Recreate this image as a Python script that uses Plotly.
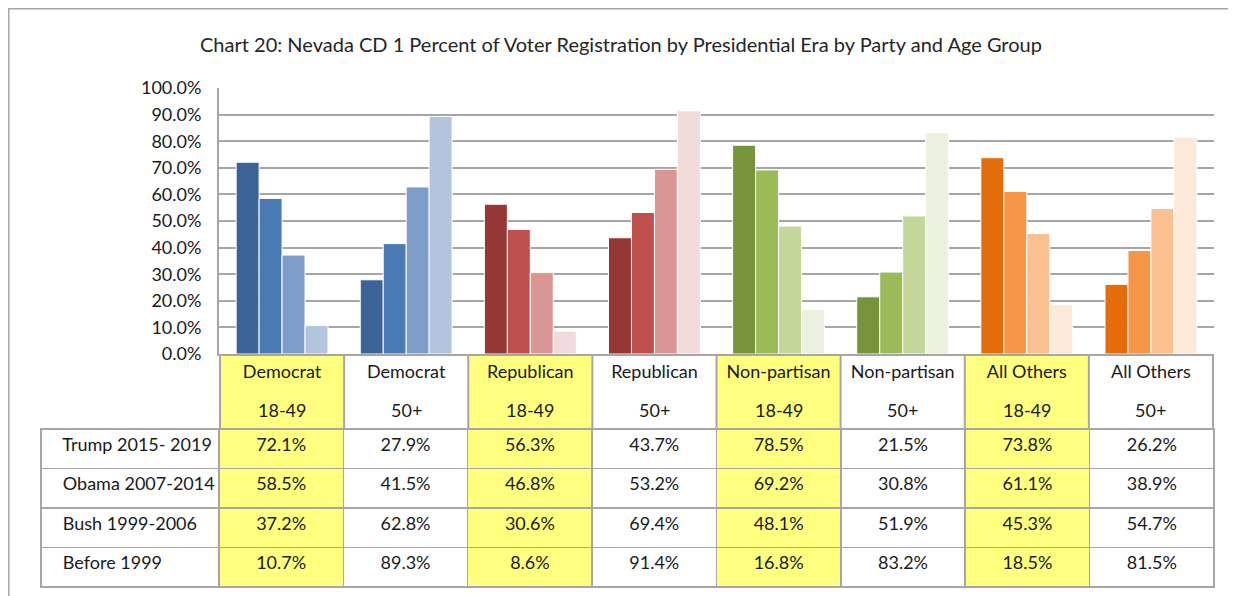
import plotly.graph_objects as go

# ---------------- data ----------------
parties = ["Democrat", "Democrat", "Republican", "Republican",
           "Non-partisan", "Non-partisan", "All Others", "All Others"]
ages = ["18-49", "50+", "18-49", "50+", "18-49", "50+", "18-49", "50+"]
eras = ["Trump 2015- 2019", "Obama 2007-2014", "Bush 1999-2006", "Before 1999"]

trump = [72.1, 27.9, 56.3, 43.7, 78.5, 21.5, 73.8, 26.2]
obama = [58.5, 41.5, 46.8, 53.2, 69.2, 30.8, 61.1, 38.9]
bush = [37.2, 62.8, 30.6, 69.4, 48.1, 51.9, 45.3, 54.7]
before = [10.7, 89.3, 8.6, 91.4, 16.8, 83.2, 18.5, 81.5]
series = [trump, obama, bush, before]

y_ticks = [0, 10, 20, 30, 40, 50, 60, 70, 80, 90, 100]

# era shades for each party (dark -> light)
palette = {
    "Democrat": ["#3B6396", "#4A7AB3", "#7F9DC9", "#B4C4DF"],
    "Republican": ["#953735", "#C0504D", "#DA9694", "#F2DCDB"],
    "Non-partisan": ["#77933C", "#9BBB59", "#C4D79B", "#EBF1DE"],
    "All Others": ["#E46C0A", "#F79646", "#FAC090", "#FDE9D9"],
}

# ---------------- geometry ----------------
# the page body has an 8px margin, so the figure starts at (8, 8) of the window
PAGE_W, PAGE_H, OFF = 1236, 596, 8
W, H = PAGE_W - OFF, PAGE_H - OFF
FONT = "Lato, Carlito, Calibri, sans-serif"
TXT = "#1a1a1a"
GRID = "#A6A6A6"
YELLOW = "#FFFF80"
FS = 18


def fx(px):
    return (px - OFF) / W


def fy(py):
    return 1 - (py - OFF) / H


keys = [f"{p} {a}" for p, a in zip(parties, ages)]

fig = go.Figure()
for j, (era, vals) in enumerate(zip(eras, series)):
    fig.add_trace(go.Bar(
        x=keys,
        y=[v / 100 for v in vals],
        name=era,
        marker=dict(color=[palette[p][j] for p in parties],
                    line=dict(color="white", width=1)),
        xaxis="x", yaxis="y",
        showlegend=False,
        hoverinfo="skip",
    ))

# data table (row labels + values); first era row used as the table header row
yellow_cols = [a == "18-49" for a in ages]
# non-breaking spaces keep the table from wrapping the row labels
columns = [["\u00a0\u00a0\u00a0" + e.replace(" ", "\u00a0") for e in eras]]
for i in range(len(keys)):
    columns.append([f"{s[i]:.1f}%" for s in series])
fills = ["white"] + [YELLOW if y else "white" for y in yellow_cols]
aligns = ["left"] + ["center"] * 8
cell_font = dict(family=FONT, size=FS, color=TXT)

fig.add_trace(go.Table(
    domain=dict(x=[fx(41), fx(1214)], y=[fy(589), fy(429)]),
    columnwidth=[178] + [124.4] * 8,
    header=dict(
        values=[c[0] for c in columns],
        fill=dict(color=fills),
        line=dict(color=GRID, width=1.5),
        align=aligns, font=cell_font, height=39.5,
    ),
    cells=dict(
        values=[c[1:] for c in columns],
        fill=dict(color=fills),
        line=dict(color=GRID, width=1.5),
        align=aligns, font=cell_font, height=39.5,
    ),
))

shapes = []
# yellow header cells
for i, y in enumerate(yellow_cols):
    if y:
        shapes.append(dict(type="rect", xref="x", yref="paper",
                           x0=i - 0.5, x1=i + 0.5, y0=fy(429), y1=fy(354),
                           fillcolor=YELLOW, line=dict(width=0), layer="below"))
# header cell separators
for i in range(len(keys) + 1):
    shapes.append(dict(type="line", xref="x", yref="paper",
                       x0=i - 0.5, x1=i - 0.5, y0=fy(429), y1=fy(354),
                       line=dict(color=GRID, width=2)))
# outer chart border
shapes.append(dict(type="rect", xref="paper", yref="paper",
                   x0=fx(8.8), x1=1.05, y0=-0.05, y1=fy(8.8),
                   line=dict(color=GRID, width=1.5), layer="below"))

annotations = [dict(x=k, y=fy(410), xref="x", yref="paper", text=a,
                    showarrow=False, yanchor="middle",
                    font=dict(family=FONT, size=FS, color=TXT))
               for k, a in zip(keys, ages)]
annotations.append(dict(
    x=fx(621), y=fy(44), xref="paper", yref="paper",
    text="Chart 20: Nevada CD 1 Percent of Voter Registration by Presidential Era by Party and Age Group",
    showarrow=False, xanchor="center", yanchor="middle",
    font=dict(family=FONT, size=20, color="#262626")))

fig.update_layout(
    width=W, height=H,
    margin=dict(l=0, r=0, t=0, b=0, autoexpand=False),
    paper_bgcolor="white", plot_bgcolor="white",
    barmode="group", bargap=0.26, bargroupgap=0,
    shapes=shapes, annotations=annotations,
    xaxis=dict(domain=[fx(219), fx(1214)], type="category",
               tickvals=keys, ticktext=parties, ticks="",
               showline=True, linecolor=GRID, linewidth=2,
               tickfont=dict(family=FONT, size=FS, color=TXT),
               ticklabelstandoff=0, fixedrange=True, automargin=False),
    yaxis=dict(domain=[fy(354), fy(88)], range=[0, 1],
               tickvals=[t / 100 for t in y_ticks], tickformat=".1%",
               showgrid=True, gridcolor=GRID, gridwidth=2,
               showline=True, linecolor=GRID, linewidth=2,
               zeroline=False, ticks="", ticklabelstandoff=12,
               tickfont=dict(family=FONT, size=FS, color=TXT),
               fixedrange=True, automargin=False),
)

fig.write_html("out.html")
